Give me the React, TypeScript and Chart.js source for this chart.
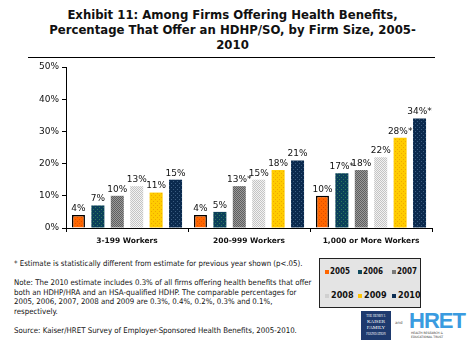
import React, { useEffect, useRef } from "react";
import { Chart, registerables } from "chart.js";

Chart.register(...registerables);

const categories = ["3-199 Workers", "200-999 Workers", "1,000 or More Workers"];
const years = ["2005", "2006", "2007", "2008", "2009", "2010"];
const v2005 = [4, 4, 10];
const v2006 = [7, 5, 17];
const v2007 = [10, 13, 18];
const v2008 = [13, 15, 22];
const v2009 = [11, 18, 28];
const v2010 = [15, 21, 34];
const sig2005 = [false, false, false];
const sig2006 = [false, false, true];
const sig2007 = [false, true, false];
const sig2008 = [false, false, false];
const sig2009 = [false, false, true];
const sig2010 = [false, false, true];
const yTicks = [0, 10, 20, 30, 40, 50];

const seriesValues = [v2005, v2006, v2007, v2008, v2009, v2010];
const seriesSig = [sig2005, sig2006, sig2007, sig2008, sig2009, sig2010];
const solidColors = ["#FF6600", "#0E4A5E", "#7A7A7A", "#D0D0D0", "#FFC400", "#0D2F55"];

function makePattern(base: string, dot: string, kind: "dots" | "checker") {
  const c = document.createElement("canvas");
  c.width = 4;
  c.height = 4;
  const g = c.getContext("2d")!;
  g.fillStyle = base;
  g.fillRect(0, 0, 4, 4);
  g.fillStyle = dot;
  if (kind === "checker") {
    for (let yy = 0; yy < 4; yy++) for (let xx = 0; xx < 4; xx++) if ((xx + yy) % 2 === 0) g.fillRect(xx, yy, 1, 1);
  } else {
    g.fillRect(1, 1, 1, 1);
    g.fillRect(3, 3, 1, 1);
  }
  return g.createPattern(c, "repeat")!;
}

const FONT = "'DejaVu Sans', Verdana, sans-serif";

export default function App() {
  const ref = useRef<HTMLCanvasElement>(null);

  useEffect(() => {
    document.body.style.margin = "0";
    const patterns = [
      makePattern("#FF6600", "#E05000", "dots"),
      makePattern("#0B3F5A", "#2F7A5A", "dots"),
      makePattern("#9A9A9A", "#5E5E5E", "checker"),
      makePattern("#F2F2F2", "#C4C4C4", "checker"),
      makePattern("#FFCC00", "#F0A800", "dots"),
      makePattern("#0B2A4E", "#3A5C80", "dots"),
    ];
    const labelPlugin = {
      id: "barLabels",
      afterDatasetsDraw(chart: any) {
        const ctx = chart.ctx;
        ctx.save();
        ctx.font = `9px ${FONT}`;
        ctx.fillStyle = "#111";
        ctx.textAlign = "center";
        ctx.textBaseline = "bottom";
        chart.data.datasets.forEach((ds: any, di: number) => {
          const meta = chart.getDatasetMeta(di);
          meta.data.forEach((el: any, i: number) => {
            const txt = ds.data[i] + "%" + (seriesSig[di][i] ? "*" : "");
            ctx.fillText(txt, el.x, el.y - 2);
          });
        });
        ctx.restore();
      },
    };
    const chart = new Chart(ref.current!, {
      type: "bar",
      data: {
        labels: categories,
        datasets: years.map((y, i) => ({
          label: y,
          data: seriesValues[i],
          backgroundColor: patterns[i] as any,
          borderColor: i === 0 ? "#000" : "rgba(0,0,0,0)",
          borderWidth: i === 0 ? 1.5 : 0,
          categoryPercentage: 0.955,
          barPercentage: 0.67,
        })),
      },
      options: {
        animation: false,
        responsive: false,
        maintainAspectRatio: false,
        layout: { padding: { left: 0, right: 39, top: 67, bottom: 0 } },
        plugins: { legend: { display: false }, tooltip: { enabled: false }, title: { display: false } },
        scales: {
          x: {
            offset: true,
            grid: { drawOnChartArea: false, drawTicks: true, tickLength: 4, color: "#000", offset: true },
            border: { display: true, color: "#000", width: 1 },
            ticks: { color: "#111", font: { family: FONT, size: 7.5, weight: "bold" }, padding: 5, maxRotation: 0 },
            afterFit: (s: any) => {
              s.height = 22;
            },
          },
          y: {
            min: 0,
            max: 50,
            afterBuildTicks: (s: any) => {
              s.ticks = yTicks.map((v) => ({ value: v }));
            },
            grid: { drawOnChartArea: false, drawTicks: true, tickLength: 4, color: "#000" },
            border: { display: true, color: "#000", width: 1 },
            ticks: {
              color: "#111",
              font: { family: FONT, size: 9 },
              padding: 3,
              callback: (v: any) => v + "%",
            },
            afterFit: (s: any) => {
              s.width = 66;
            },
          },
        },
      },
      plugins: [labelPlugin],
    });
    return () => chart.destroy();
  }, []);

  const smallFont = `'DejaVu Sans Condensed', ${FONT}`;
  const legendLeft = [5, 38, 72];

  return (
    <div style={{ position: "fixed", left: 0, top: 0, width: 471, height: 350, background: "#fff", overflow: "hidden" }}>
      <div
        style={{
          position: "absolute",
          left: 0,
          top: 7,
          width: 465,
          textAlign: "center",
          fontFamily: smallFont,
          fontWeight: "bold",
          fontSize: 13,
          lineHeight: "15px",
          color: "#111",
        }}
      >
        <div>Exhibit 11: Among Firms Offering Health Benefits,</div>
        <div>Percentage That Offer an HDHP/SO, by Firm Size, 2005-</div>
        <div>2010</div>
      </div>
      <div style={{ position: "absolute", left: 28, top: 57, width: 407, height: 1, background: "#000" }} />
      <canvas ref={ref} width={471} height={250} style={{ position: "absolute", left: 0, top: 0, width: 471, height: 250 }} />
      <div style={{ position: "absolute", left: 14, top: 259, fontFamily: smallFont, fontSize: 7.8, lineHeight: "9.5px", color: "#111", whiteSpace: "nowrap" }}>
        <div>* Estimate is statistically different from estimate for previous year shown (p&lt;.05).</div>
        <div style={{ marginTop: 9.5 }}>Note: The 2010 estimate includes 0.3% of all firms offering health benefits that offer</div>
        <div>both an HDHP/HRA and an HSA-qualified HDHP. The comparable percentages for</div>
        <div>2005, 2006, 2007, 2008 and 2009 are 0.3%, 0.4%, 0.2%, 0.3% and 0.1%,</div>
        <div>respectively.</div>
        <div style={{ marginTop: 10 }}>Source: Kaiser/HRET Survey of Employer-Sponsored Health Benefits, 2005-2010.</div>
      </div>
      <div
        style={{
          position: "absolute",
          left: 319,
          top: 258,
          width: 100,
          height: 48,
          border: "1px solid #222",
          backgroundColor: "#e4e4e4",
          backgroundImage: "radial-gradient(#c8c8c8 0.6px, transparent 0.7px)",
          backgroundSize: "2px 2px",
        }}
      >
        {years.map((y, i) => (
          <div
            key={y}
            style={{
              position: "absolute",
              left: legendLeft[i % 3],
              top: i < 3 ? 7 : 31,
              display: "flex",
              alignItems: "center",
              fontFamily: smallFont,
              fontWeight: "bold",
              fontSize: i < 3 ? 8 : 9,
              lineHeight: "11px",
              color: "#111",
            }}
          >
            <span style={{ display: "inline-block", width: 4, height: 4, background: solidColors[i], marginRight: i < 3 ? 1 : 2 }} />
            {y}
          </div>
        ))}
      </div>
      <div style={{ position: "absolute", left: 361, top: 311, width: 30, height: 29, background: "#1E3A6E", color: "#fff", fontFamily: "'Liberation Serif', serif", fontSize: 5, lineHeight: "6px", textAlign: "center", paddingTop: 2, boxSizing: "border-box" }}>
        <div style={{ fontSize: 3 }}>THE HENRY J.</div>
        <div>KAISER</div>
        <div>FAMILY</div>
        <div style={{ fontSize: 3 }}>FOUNDATION</div>
      </div>
      <div style={{ position: "absolute", left: 395, top: 320, fontFamily: FONT, fontSize: 4, color: "#555" }}>and</div>
      <div style={{ position: "absolute", left: 409, top: 309, fontFamily: "'Liberation Sans', sans-serif", fontWeight: "bold", fontSize: 22, lineHeight: "24px", color: "#3A9BE0", letterSpacing: -1 }}>HRET</div>
      <div style={{ position: "absolute", left: 411, top: 332, fontFamily: FONT, fontSize: 3, lineHeight: "3.5px", color: "#333" }}>
        <div>HEALTH RESEARCH &amp;</div>
        <div>EDUCATIONAL TRUST</div>
      </div>
    </div>
  );
}
